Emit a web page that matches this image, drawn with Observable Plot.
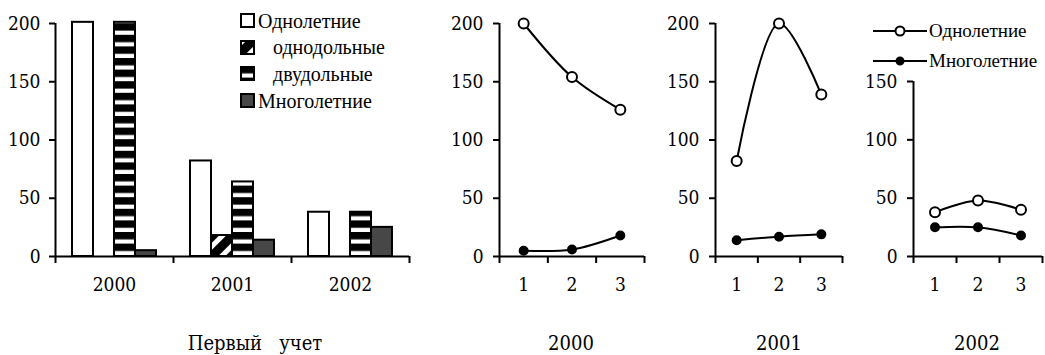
<!DOCTYPE html>
<html><head><meta charset="utf-8">
<script src="https://cdn.jsdelivr.net/npm/d3@7"></script>
<script src="https://cdn.jsdelivr.net/npm/@observablehq/plot@0.6"></script>
<style>
html,body{margin:0;padding:0;background:#fff;}
#root{position:relative;width:1045px;height:355px;overflow:hidden;font-family:"DejaVu Serif Condensed",serif;color:#000;}
.abs{position:absolute;top:0;}
.title{position:absolute;top:333px;font-family:"DejaVu Serif Condensed",serif;font-size:20px;line-height:1;transform:translateX(-50%);white-space:pre;}
.bleg{position:absolute;left:240px;height:20px;display:flex;align-items:center;font-family:"Liberation Serif",serif;font-size:20px;white-space:pre;}
.lleg{position:absolute;left:873px;height:20px;display:flex;align-items:center;font-family:"Liberation Serif",serif;font-size:19px;white-space:pre;}
</style></head><body>
<svg width="0" height="0" style="position:absolute">
<defs>
<pattern id="stripes" patternUnits="userSpaceOnUse" width="10" height="11.6">
<rect width="10" height="11.6" fill="#fff"/>
<rect y="0" width="10" height="7.4" fill="#000"/>
</pattern>
<pattern id="diag" patternUnits="userSpaceOnUse" width="14" height="14" patternTransform="rotate(45)">
<rect width="14" height="14" fill="#000"/><rect width="5" height="14" fill="#fff"/>
</pattern>
</defs></svg>
<div id="root"></div>
<script>
// ---- data ----
const years = ["2000", "2001", "2002"];
const barSeries = ["Однолетние", "однодольные", "двудольные", "Многолетние"];
const barLegendLabels = ["Однолетние", "   однодольные", "   двудольные", "Многолетние"];
const annualFirst = [201, 82, 38];
const monocotFirst = [0, 18, 0];
const dicotFirst = [201, 64, 38];
const perennialFirst = [5, 14, 25];
const barFills = ["#ffffff", "url(#diag)", "url(#stripes)", "#474747"];

const counts = [1, 2, 3];
const countBoundaries = [0.5, 1.5, 2.5, 3.5];
const lineSeries = ["Однолетние", "Многолетние"];
const annual2000 = [200, 154, 126];
const perennial2000 = [5, 6, 18];
const annual2001 = [82, 200, 139];
const perennial2001 = [14, 17, 19];
const annual2002 = [38, 48, 40];
const perennial2002 = [25, 25, 18];

const yTicks = [0, 50, 100, 150, 200];
const yTicks2002 = [0, 50, 100, 150];
const bottomTitles = ["Первый   учет", "2000", "2001", "2002"];

// ---- helpers ----
const root = document.getElementById("root");
const baseStyle = {background: "transparent", overflow: "visible", fontFamily: "'DejaVu Serif Condensed', serif", fontSize: "19px", color: "#000"};
function place(el, left) {
  el.classList.add("abs");
  el.style.left = left + "px";
  root.appendChild(el);
}

// ---- bar chart ----
const seriesValues = [annualFirst, monocotFirst, dicotFirst, perennialFirst];
const barData = years.flatMap((yr, i) => barSeries.map((s, k) => ({year: yr, series: s, value: seriesValues[k][i]})))
  .filter(d => d.value > 0);

const barDims = {width: 420, height: 300, marginLeft: 55, marginRight: 11, marginTop: 23, marginBottom: 44};
const bars = Plot.plot({
  ...barDims,
  style: baseStyle,
  fx: {domain: years, padding: 0, label: null, axis: "bottom", tickSize: 0, tickPadding: 21},
  x: {domain: barSeries, axis: null, paddingInner: 0, paddingOuter: 0.72},
  y: {domain: [0, 200], axis: null},
  color: {domain: barSeries, range: barFills},
  marks: [
    Plot.barY(barData, {fx: "year", x: "series", y: "value", fill: "series", stroke: "#000", strokeWidth: 2})
  ]
});
place(bars, 0);

const barAxes = Plot.plot({
  ...barDims,
  style: baseStyle,
  x: {domain: [0, years.length], axis: null},
  y: {domain: [0, 200], axis: null},
  marks: [
    Plot.axisY({ticks: yTicks, tickSize: 6, tickPadding: 9, strokeWidth: 2, label: null, tickFormat: d => String(d)}),
    Plot.axisX({ticks: d3.range(years.length + 1), tickSize: 7, tickFormat: () => "", strokeWidth: 2, label: null}),
    Plot.ruleX([0], {y1: 0, y2: 200, strokeWidth: 2}),
    Plot.ruleY([0], {strokeWidth: 2})
  ]
});
place(barAxes, 0);

// bar legend
barSeries.forEach((s, k) => {
  const row = document.createElement("div");
  row.className = "bleg";
  row.style.top = (11 + k * 26.7) + "px";
  row.innerHTML = `<svg width="18" height="16" style="overflow:visible"><rect x="1" y="1" width="13" height="13" fill="${barFills[k]}" stroke="#000" stroke-width="2"/></svg><span>${barLegendLabels[k]}</span>`;
  root.appendChild(row);
});

// ---- line charts ----
function linePlot({width, marginLeft, marginRight, marginTop, yMax, ticks, annual, perennial}) {
  const data = counts.flatMap((c, i) => [
    {count: c, series: lineSeries[0], value: annual[i]},
    {count: c, series: lineSeries[1], value: perennial[i]}
  ]);
  return Plot.plot({
    width, height: 300, marginLeft, marginRight, marginTop, marginBottom: 44,
    style: baseStyle,
    x: {domain: [countBoundaries[0], countBoundaries[countBoundaries.length - 1]], axis: null},
    y: {domain: [0, yMax], axis: null},
    marks: [
      Plot.ruleX([countBoundaries[0]], {y1: 0, y2: yMax, strokeWidth: 2}),
      Plot.ruleY([0], {strokeWidth: 2}),
      Plot.axisX({ticks: countBoundaries, tickSize: 7, tickFormat: () => "", strokeWidth: 2, label: null}),
      Plot.axisX({ticks: counts, tickSize: 0, tickPadding: 21, label: null, tickFormat: d => String(d)}),
      Plot.axisY({ticks, tickSize: 6, tickPadding: 10, strokeWidth: 2, label: null, tickFormat: d => String(d)}),
      Plot.line(data, {x: "count", y: "value", z: "series", curve: "catmull-rom", stroke: "#000", strokeWidth: 2}),
      Plot.dot(data, {filter: d => d.series === lineSeries[0], x: "count", y: "value", r: 5, fill: "#fff", stroke: "#000", strokeWidth: 2}),
      Plot.dot(data, {filter: d => d.series === lineSeries[1], x: "count", y: "value", r: 4, fill: "#000", stroke: "#000", strokeWidth: 2})
    ]
  });
}

place(linePlot({width: 220, marginLeft: 59, marginRight: 16, marginTop: 23, yMax: 200, ticks: yTicks, annual: annual2000, perennial: perennial2000}), 440);
place(linePlot({width: 205, marginLeft: 60, marginRight: 18, marginTop: 23, yMax: 200, ticks: yTicks, annual: annual2001, perennial: perennial2001}), 655);
place(linePlot({width: 190, marginLeft: 58, marginRight: 3, marginTop: 81, yMax: 150, ticks: yTicks2002, annual: annual2002, perennial: perennial2002}), 855);

// line legend
lineSeries.forEach((s, k) => {
  const row = document.createElement("div");
  row.className = "lleg";
  row.style.top = (21 + k * 30) + "px";
  const fill = k === 0 ? "#fff" : "#000";
  const r = k === 0 ? 4.5 : 3.5;
  row.innerHTML = `<svg width="56" height="14" style="overflow:visible"><line x1="0" x2="54" y1="7" y2="7" stroke="#000" stroke-width="2"/><circle cx="27" cy="7" r="${r}" fill="${fill}" stroke="#000" stroke-width="2"/></svg><span>${s}</span>`;
  root.appendChild(row);
});

// bottom titles
const titleCenters = [255, 571, 779, 977];
bottomTitles.forEach((t, i) => {
  const d = document.createElement("div");
  d.className = "title";
  d.style.left = titleCenters[i] + "px";
  d.textContent = t;
  root.appendChild(d);
});
</script>
</body></html>
